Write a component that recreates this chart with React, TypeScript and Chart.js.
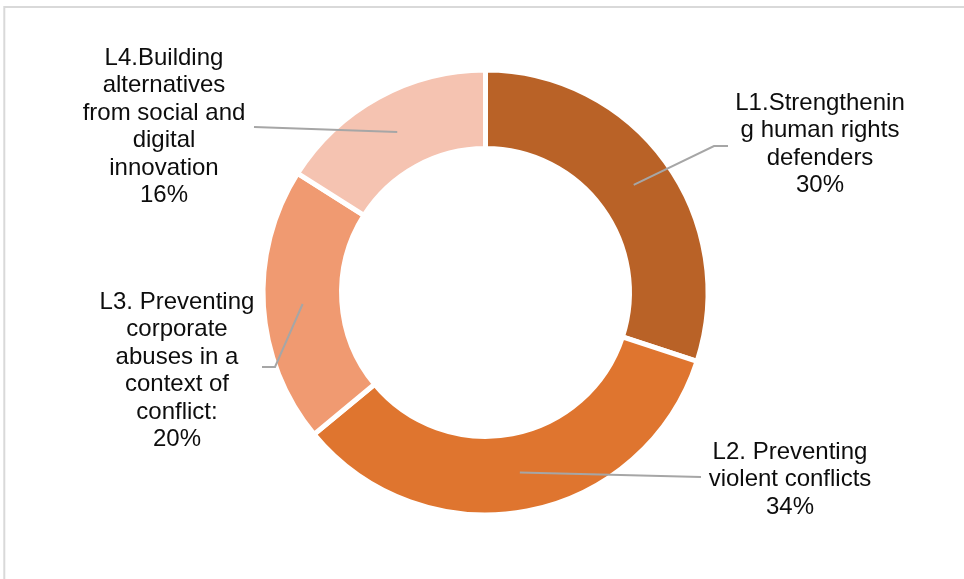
import React, { useEffect, useRef } from "react";
import { Chart, registerables } from "chart.js";

Chart.register(...registerables);

const categories = [
  "L1.Strengthening human rights defenders",
  "L2. Preventing violent conflicts",
  "L3. Preventing corporate abuses in a context of conflict:",
  "L4.Building alternatives from social and digital innovation",
];
const values = [30, 34, 20, 16];
const labelLines = [
  ["L1.Strengthenin", "g human rights", "defenders"],
  ["L2. Preventing", "violent conflicts"],
  ["L3. Preventing", "corporate", "abuses in a", "context of", "conflict:"],
  ["L4.Building", "alternatives", "from social and", "digital", "innovation"],
];
const colors = ["#B96227", "#DF752F", "#F09A71", "#F5C3B1"];

// label layout (offsets relative to doughnut centre)
const labelPos = [
  { x: 334.5, y: -189.5 },
  { x: 304.5, y: 159.5 },
  { x: -308.5, y: 9.5 },
  { x: -321.5, y: -234.5 },
];
// leader line points after anchor (relative to centre)
const leaderPts = [
  [
    { x: 228.5, y: -146.5 },
    { x: 242.5, y: -146.5 },
  ],
  [{ x: 215.5, y: 184.5 }],
  [
    { x: -210.5, y: 74.5 },
    { x: -223.5, y: 74.5 },
  ],
  [{ x: -231.5, y: -165.5 }],
];

const labelPlugin = {
  id: "labelPlugin",
  beforeDraw(chart: any) {
    const ctx = chart.ctx;
    ctx.save();
    ctx.strokeStyle = "#D9D9D9";
    ctx.lineWidth = 2;
    ctx.beginPath();
    ctx.moveTo(4.3, 579);
    ctx.lineTo(4.3, 7);
    ctx.lineTo(964, 7);
    ctx.stroke();
    ctx.restore();
  },
  afterDraw(chart: any) {
    const ctx = chart.ctx;
    const meta = chart.getDatasetMeta(0);
    ctx.save();
    meta.data.forEach((arc: any, i: number) => {
      const cx = arc.x;
      const cy = arc.y;
      const p = arc.getCenterPoint();
      ctx.strokeStyle = "#A6A6A6";
      ctx.lineWidth = 2;
      ctx.beginPath();
      ctx.moveTo(p.x, p.y);
      leaderPts[i].forEach((q) => ctx.lineTo(cx + q.x, cy + q.y));
      ctx.stroke();

      const lines = [...labelLines[i], `${values[i]}%`];
      ctx.fillStyle = "#0D0D0D";
      ctx.font = '24px "Liberation Sans", Arial, sans-serif';
      ctx.textAlign = "center";
      ctx.textBaseline = "middle";
      lines.forEach((t, j) => {
        ctx.fillText(t, cx + labelPos[i].x, cy + labelPos[i].y + j * 27.5);
      });
    });
    ctx.restore();
  },
};

export default function App() {
  const ref = useRef<HTMLCanvasElement | null>(null);
  useEffect(() => {
    if (!ref.current) return;
    const chart = new Chart(ref.current, {
      type: "doughnut",
      data: {
        labels: categories,
        datasets: [
          {
            data: values,
            backgroundColor: colors,
            borderColor: "#FFFFFF",
            borderWidth: 5,
          },
        ],
      },
      options: {
        responsive: false,
        animation: false,
        radius: 222.5,
        cutout: "64.7%",
        layout: { padding: { left: 7, top: 6, right: 0, bottom: 0 } },
        plugins: {
          legend: { display: false },
          tooltip: { enabled: false },
        },
      },
      plugins: [labelPlugin],
    });
    return () => chart.destroy();
  }, []);
  return (
    <div style={{ position: "fixed", left: 0, top: 0, width: 964, height: 579, background: "#fff" }}>
      <canvas ref={ref} width={964} height={579} />
    </div>
  );
}
